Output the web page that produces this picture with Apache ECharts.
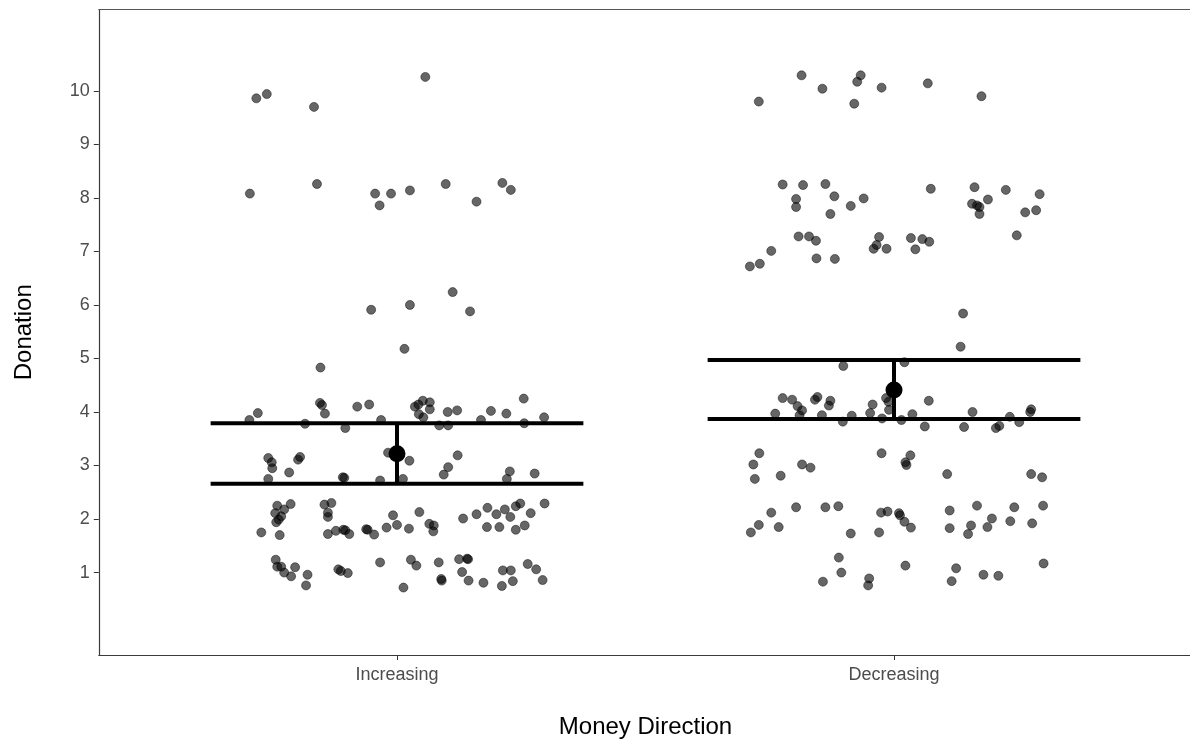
<!DOCTYPE html>
<html>
<head>
<meta charset="utf-8">
<script src="https://cdn.jsdelivr.net/npm/echarts@6/dist/echarts.min.js"></script>
<style>
html,body{margin:0;padding:0;background:#fff;overflow:hidden;}
#chart{width:1190px;height:740px;}
</style>
</head>
<body>
<div id="chart"></div>
<script>
const categories = ['Increasing', 'Decreasing'];
const yTicks = [1, 2, 3, 4, 5, 6, 7, 8, 9, 10];

// jittered horizontal offsets (from category centre) and donation values
const incJitter = [
  -0.283, -0.262, -0.167, 0.057, -0.296, -0.161, -0.044, -0.012, -0.035, 0.026,
  0.098, 0.160, 0.212, 0.229, 0.112, 0.026, -0.052, 0.147, 0.015, -0.154,
  -0.297, -0.280, -0.185, -0.155, -0.151, -0.145, -0.104, -0.080, -0.056, -0.032,
  0.036, 0.043, 0.052, 0.066, 0.066, 0.044, 0.053, 0.102, 0.121, 0.085,
  0.103, 0.169, 0.189, 0.220, 0.255, 0.256, 0.296,
  -0.259, -0.252, -0.251, -0.217, -0.199, -0.195, -0.259, -0.109, -0.106, -0.034,
  -0.018, 0.025, 0.012, 0.103, 0.094, 0.122, 0.227, 0.221, 0.277,
  -0.241, -0.214, -0.227, -0.245, -0.233, -0.238, -0.243, -0.273, -0.236, -0.146,
  -0.132, -0.139, -0.139, -0.139, -0.123, -0.108, -0.104, -0.096, -0.059, -0.062,
  -0.046, -0.021, -0.008, 0.000, 0.024, 0.045, 0.065, 0.074, 0.073, 0.133,
  0.160, 0.182, 0.200, 0.217, 0.228, 0.239, 0.248, 0.269, 0.297, 0.181,
  0.206, 0.239, 0.257,
  -0.244, -0.241, -0.233, -0.227, -0.205, -0.213, -0.180, -0.183, -0.118, -0.113,
  -0.099, -0.034, 0.028, 0.039, 0.084, 0.013, 0.089, 0.090, 0.125, 0.141,
  0.143, 0.131, 0.144, 0.174, 0.211, 0.213, 0.229, 0.233, 0.263, 0.280, 0.293
];
const incDonation = [
  9.86, 9.94, 9.70, 10.26, 8.08, 8.26, 8.08, 8.08, 7.86, 8.14,
  8.26, 7.93, 8.28, 8.15, 6.24, 6.00, 5.91, 5.88, 5.18, 4.83,
  3.85, 3.98, 3.78, 4.17, 4.13, 3.97, 3.70, 4.10, 4.14, 3.85,
  4.10, 4.14, 4.21, 4.18, 4.05, 3.96, 3.90, 4.00, 4.03, 3.75,
  3.75, 3.85, 4.02, 3.97, 4.25, 3.79, 3.90,
  3.14, 3.06, 2.95, 2.87, 3.11, 3.16, 2.75, 2.78, 2.77, 2.72,
  3.24, 3.09, 2.75, 2.97, 2.83, 3.19, 2.89, 2.75, 2.85,
  2.25, 2.28, 2.18, 2.11, 2.05, 1.99, 1.94, 1.75, 1.70, 2.27,
  2.30, 2.12, 2.04, 1.72, 1.78, 1.80, 1.79, 1.72, 1.80, 1.81,
  1.71, 1.84, 2.07, 1.89, 1.82, 2.13, 1.91, 1.88, 1.77, 2.01,
  2.09, 2.21, 2.09, 2.18, 2.04, 2.24, 2.29, 2.11, 2.29, 1.85,
  1.85, 1.80, 1.88,
  1.24, 1.11, 1.11, 1.00, 1.10, 0.93, 0.96, 0.76, 1.06, 1.03,
  0.99, 1.19, 1.24, 1.13, 1.19, 0.72, 0.88, 0.85, 1.25, 1.26,
  1.25, 1.01, 0.85, 0.81, 0.75, 1.04, 1.04, 0.84, 1.16, 1.06, 0.86
];
const decJitter = [
  -0.186, -0.144, -0.074, -0.067, -0.025, 0.068, 0.176, -0.272, -0.080,
  -0.224, -0.183, -0.138, -0.197, -0.197, -0.120, -0.087, -0.061, -0.128, 0.074,
  0.162, 0.225, 0.293, 0.189, 0.157, 0.167, 0.172, 0.172, 0.264, 0.286, 0.247,
  -0.192, -0.171, -0.157, -0.247, -0.270, -0.290, -0.156, -0.119, -0.030, -0.035,
  -0.041, -0.015, 0.034, 0.057, 0.071, 0.043, 0.139, 0.134, -0.102, 0.021,
  -0.224, -0.205, -0.194, -0.185, -0.190, -0.239, -0.159, -0.154, -0.128, -0.131,
  -0.145, -0.103, -0.085, -0.043, -0.048, -0.016, -0.011, -0.010, -0.024, 0.015,
  0.037, 0.070, 0.062, 0.158, 0.141, 0.205, 0.212, 0.233, 0.252, 0.274, 0.276,
  -0.271, -0.283, -0.280, -0.228, -0.185, -0.168, -0.025, 0.033, 0.023, 0.025,
  0.107, 0.276, 0.298,
  -0.247, -0.197, -0.138, -0.112, -0.272, -0.232, -0.288, -0.087, -0.026, -0.013,
  0.010, 0.012, 0.021, 0.034, -0.030, 0.112, 0.167, 0.242, 0.300, 0.112,
  0.155, 0.149, 0.197, 0.188, 0.234, 0.278,
  -0.111, -0.106, -0.143, -0.050, -0.052, 0.023, 0.125, 0.116, 0.180, 0.210, 0.301
];
const decDonation = [
  10.29, 10.04, 10.17, 10.29, 10.06, 10.14, 9.90, 9.80, 9.76,
  8.25, 8.24, 8.26, 7.98, 7.83, 8.03, 7.85, 7.99, 7.70, 8.17,
  8.20, 8.15, 8.07, 7.97, 7.89, 7.86, 7.83, 7.70, 7.73, 7.77, 7.30,
  7.28, 7.28, 7.20, 7.01, 6.77, 6.72, 6.87, 6.86, 7.27, 7.12,
  7.05, 7.05, 7.25, 7.23, 7.18, 7.04, 5.84, 5.22, 4.86, 4.93,
  4.26, 4.23, 4.11, 4.03, 3.94, 3.97, 4.23, 4.28, 4.21, 4.12,
  3.94, 3.82, 3.93, 4.14, 3.98, 4.26, 4.19, 4.04, 3.88, 3.85,
  3.96, 4.21, 3.73, 4.00, 3.72, 3.70, 3.74, 3.91, 3.81, 4.00, 4.05,
  3.23, 3.02, 2.75, 2.81, 3.02, 2.96, 3.23, 3.19, 3.06, 3.01,
  2.84, 2.84, 2.78,
  2.12, 2.22, 2.22, 2.24, 1.89, 1.85, 1.75, 1.73, 2.12, 2.14,
  2.11, 2.07, 1.95, 1.84, 1.75, 2.16, 2.25, 2.22, 2.25, 1.83,
  1.88, 1.72, 2.01, 1.85, 1.96, 1.92,
  1.28, 1.00, 0.83, 0.89, 0.76, 1.13, 1.08, 0.84, 0.96, 0.94, 1.17
];

// summary: mean and interval per category
const meanDonation = [3.22, 4.41];
const ciLower = [2.66, 3.87];
const ciUpper = [3.79, 4.97];

const ERRORBAR_HALF_WIDTH = 0.375;
const FONT = "'Liberation Sans', Arial, Helvetica, sans-serif";

const pointData = [];
incJitter.forEach((j, i) => pointData.push([1 + j, incDonation[i]]));
decJitter.forEach((j, i) => pointData.push([2 + j, decDonation[i]]));

const errData = categories.map((c, i) => [i + 1, ciLower[i], ciUpper[i]]);
const meanData = categories.map((c, i) => [i + 1, meanDonation[i]]);

const axisColor = '#3a3a3a';

const chart = echarts.init(document.getElementById('chart'), null, {renderer: 'canvas'});
chart.setOption({
  animation: false,
  backgroundColor: '#ffffff',
  grid: {
    left: 98.8, top: 9.5, right: -2.2, bottom: 85,
    outerBoundsMode: 'none', containLabel: false,
    show: false
  },
  xAxis: [{
    type: 'value', min: 0.4, max: 2.6, position: 'bottom',
    name: 'Money Direction', nameLocation: 'middle', nameGap: 60,
    nameTextStyle: {fontSize: 24, color: '#000000', fontFamily: FONT},
    axisLine: {show: true, onZero: false, lineStyle: {color: axisColor, width: 1.2}},
    splitLine: {show: false},
    axisTick: {show: true, length: 5, customValues: [1, 2], lineStyle: {color: '#333333', width: 1}},
    axisLabel: {
      customValues: [1, 2], margin: 11, fontSize: 18, color: '#4d4d4d', fontFamily: FONT,
      formatter: v => categories[Math.round(v) - 1]
    }
  }, {
    type: 'value', min: 0.4, max: 2.6, position: 'top',
    axisLine: {show: true, onZero: false, lineStyle: {color: '#555555', width: 1.2}},
    axisTick: {show: false}, axisLabel: {show: false}, splitLine: {show: false}
  }],
  yAxis: {
    type: 'value', min: -0.54, max: 11.52,
    name: 'Donation', nameLocation: 'middle', nameGap: 62,
    nameTextStyle: {fontSize: 24, color: '#000000', fontFamily: FONT},
    axisLine: {show: true, onZero: false, lineStyle: {color: axisColor, width: 1.2}},
    splitLine: {show: false},
    axisTick: {show: true, length: 5, customValues: yTicks, lineStyle: {color: '#333333', width: 1}},
    axisLabel: {
      customValues: yTicks, margin: 9, fontSize: 18, color: '#4d4d4d', fontFamily: FONT,
      formatter: v => String(Math.round(v))
    }
  },
  series: [
    {
      type: 'scatter', data: pointData, symbol: 'circle', symbolSize: 9, silent: true, z: 2,
      itemStyle: {color: 'rgba(0,0,0,0.6)', borderColor: 'rgba(0,0,0,0.45)', borderWidth: 1, opacity: 1}
    },
    {
      type: 'custom', data: errData, silent: true, z: 3,
      encode: {x: 0, y: [1, 2]},
      renderItem: function (params, api) {
        const x = api.value(0), lo = api.value(1), hi = api.value(2);
        const a1 = api.coord([x - ERRORBAR_HALF_WIDTH, hi]);
        const a2 = api.coord([x + ERRORBAR_HALF_WIDTH, hi]);
        const b1 = api.coord([x - ERRORBAR_HALF_WIDTH, lo]);
        const b2 = api.coord([x + ERRORBAR_HALF_WIDTH, lo]);
        const c1 = api.coord([x, hi]);
        const c2 = api.coord([x, lo]);
        const st = {stroke: '#000000', lineWidth: 4, lineCap: 'butt'};
        return {
          type: 'group',
          children: [
            {type: 'line', shape: {x1: a1[0], y1: a1[1], x2: a2[0], y2: a2[1]}, style: st},
            {type: 'line', shape: {x1: b1[0], y1: b1[1], x2: b2[0], y2: b2[1]}, style: st},
            {type: 'line', shape: {x1: c1[0], y1: c1[1], x2: c2[0], y2: c2[1]}, style: st}
          ]
        };
      }
    },
    {
      type: 'scatter', data: meanData, symbol: 'circle', symbolSize: 17, silent: true, z: 4,
      itemStyle: {color: '#000000', opacity: 1}
    }
  ]
});
</script>
</body>
</html>
